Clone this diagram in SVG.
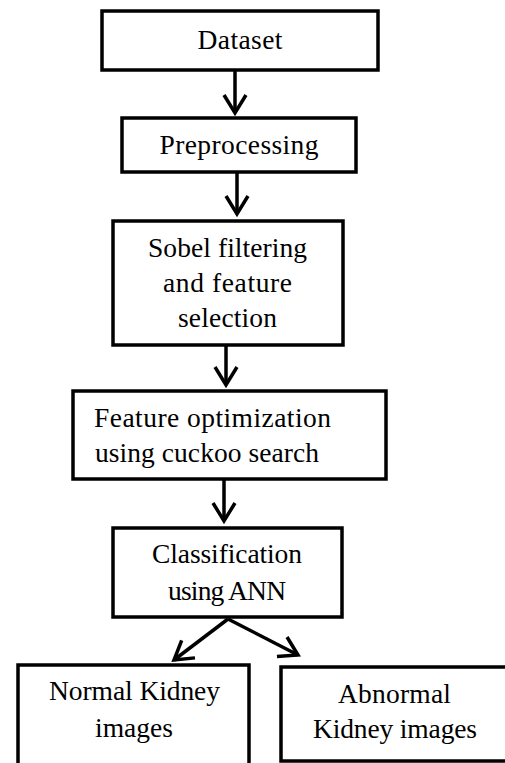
<svg xmlns="http://www.w3.org/2000/svg" width="505" height="763" viewBox="0 0 505 763">
<style>
.box{fill:#fff;stroke:#000;stroke-width:3.5}
.t{font-family:"Liberation Serif","Times New Roman",serif;font-size:27.5px;fill:#000;text-anchor:middle}
.tl{font-family:"Liberation Serif","Times New Roman",serif;font-size:27.5px;fill:#000}
.c{fill:none;stroke:#000;stroke-width:3.5}
</style>
<defs>
<marker id="ah" markerUnits="userSpaceOnUse" markerWidth="30" markerHeight="30" refX="0" refY="0" viewBox="-22 -15 26 30" orient="auto" overflow="visible">
<path d="M-18,-11 L0,0 L-18,11" fill="none" stroke="#000" stroke-width="3.5" stroke-linejoin="miter"/>
</marker>
</defs>
<g id="connectors">
<path class="c" d="M235,70 L235,113" marker-end="url(#ah)"/>
<path class="c" d="M237,172 L237,214" marker-end="url(#ah)"/>
<path class="c" d="M226,345 L226,385" marker-end="url(#ah)"/>
<path class="c" d="M224,479 L224,521" marker-end="url(#ah)"/>
<path class="c" d="M228,619 L174,660" marker-end="url(#ah)"/>
<path class="c" d="M228,619 L298,655" marker-end="url(#ah)"/>
</g>
<g id="dataset">
<rect class="box" x="102" y="11" width="276" height="59"/>
<text class="t" x="240" y="49" textLength="85">Dataset</text>
</g>
<g id="preprocessing">
<rect class="box" x="122" y="118" width="234" height="54"/>
<text class="t" x="239" y="154" textLength="159">Preprocessing</text>
</g>
<g id="sobel">
<rect class="box" x="113" y="221" width="230" height="124"/>
<text class="t" x="227.5" y="257" textLength="159">Sobel filtering</text>
<text class="t" x="227.5" y="292" textLength="129">and feature</text>
<text class="t" x="227.5" y="327" textLength="99">selection</text>
</g>
<g id="optimization">
<rect class="box" x="73" y="391" width="313" height="88"/>
<text class="tl" x="94" y="427" textLength="237">Feature optimization</text>
<text class="tl" x="95" y="462" textLength="224">using cuckoo search</text>
</g>
<g id="classification">
<rect class="box" x="113" y="528" width="229" height="89"/>
<text class="t" x="227" y="563" textLength="150">Classification</text>
<text class="t" x="227" y="600" textLength="118">using ANN</text>
</g>
<g id="normal">
<rect class="box" x="18" y="665" width="231" height="120"/>
<text class="t" x="134.5" y="700" textLength="171">Normal Kidney</text>
<text class="t" x="134" y="737" textLength="78">images</text>
</g>
<g id="abnormal">
<rect class="box" x="281" y="667" width="240" height="94"/>
<text class="t" x="394.5" y="703" textLength="113">Abnormal</text>
<text class="t" x="395" y="738" textLength="164">Kidney images</text>
</g>
</svg>
